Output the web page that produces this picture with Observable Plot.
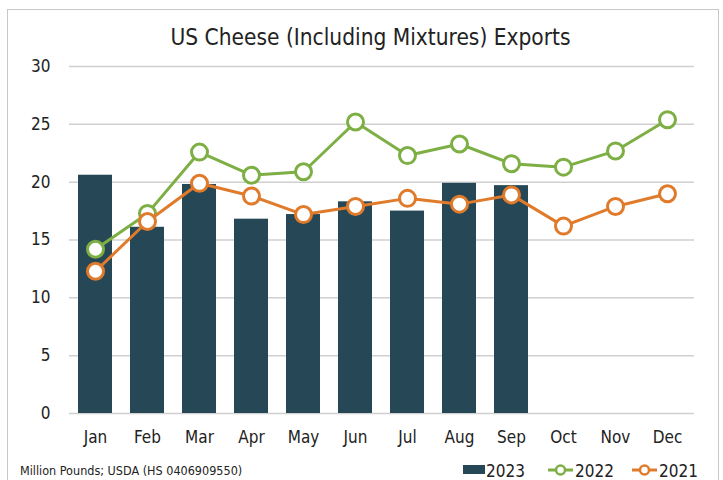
<!DOCTYPE html>
<html><head><meta charset="utf-8">
<script src="https://cdn.jsdelivr.net/npm/d3@7"></script>
<script src="https://cdn.jsdelivr.net/npm/@observablehq/plot@0.6"></script>
<style>
body{margin:0;background:#fff;font-family:"Liberation Sans Narrow","DejaVu Sans Condensed",sans-serif;}
#frame{position:absolute;left:7px;top:9px;width:710px;height:480px;border:1px solid #c8c8c8;}
#title{position:absolute;left:9px;top:24px;width:723px;text-align:center;font-size:22.5px;color:#222;}
#chart{position:absolute;left:0;top:50px;}
#caption{position:absolute;left:20px;top:463px;font-size:12.5px;color:#222;}
#legend{position:absolute;left:463px;top:459px;font-size:17px;color:#222;}
</style></head>
<body>
<div id="frame"></div>
<div id="title">US Cheese (Including Mixtures) Exports</div>
<div id="chart"></div>
<div id="caption">Million Pounds; USDA (HS 0406909550)</div>
<div id="legend"></div>
<script>
const months = ["Jan","Feb","Mar","Apr","May","Jun","Jul","Aug","Sep","Oct","Nov","Dec"];
const v2023 = [20.6,16.1,19.8,16.8,17.2,18.3,17.5,19.9,19.7];
const v2022 = [14.2,17.3,22.6,20.6,20.9,25.2,22.3,23.3,21.6,21.3,22.7,25.4];
const v2021 = [12.3,16.6,19.9,18.8,17.2,17.9,18.6,18.1,18.9,16.2,17.9,19.0];
const yTicks = [0,5,10,15,20,25,30];

const c23 = "#264756", c22 = "#7daf45", c21 = "#e07b2b";
const bars = v2023.map((v,i)=>({m:months[i],v}));
const l22 = v2022.map((v,i)=>({m:months[i],v}));
const l21 = v2021.map((v,i)=>({m:months[i],v}));

const plot = Plot.plot({
  width:723, height:400,
  marginLeft:69, marginRight:29, marginTop:16, marginBottom:37,
  style:{fontFamily:'"Liberation Sans Narrow","DejaVu Sans Condensed",sans-serif', fontSize:"17px", color:"#222"},
  x:{domain:months, paddingInner:0.34, paddingOuter:0.17, label:null, tickSize:0, tickPadding:17},
  y:{domain:[0,30], ticks:yTicks, label:null, tickSize:0, tickPadding:19},
  marks:[
    Plot.ruleY(yTicks,{stroke:"#d0d0d0", strokeWidth:1.5}),
    Plot.barY(bars,{x:"m", y:"v", fill:c23}),
    Plot.line(l22,{x:"m", y:"v", stroke:c22, strokeWidth:3}),
    Plot.dot(l22,{x:"m", y:"v", r:8, stroke:c22, strokeWidth:3, fill:"white"}),
    Plot.line(l21,{x:"m", y:"v", stroke:c21, strokeWidth:3}),
    Plot.dot(l21,{x:"m", y:"v", r:8, stroke:c21, strokeWidth:3, fill:"white"})
  ]
});
document.getElementById("chart").appendChild(plot);

const legendItems = [{k:"2023",c:c23,t:"bar"},{k:"2022",c:c22,t:"line"},{k:"2021",c:c21,t:"line"}];
const lg = d3.select("#legend").append("svg").attr("width",250).attr("height",24).style("overflow","visible");
const offs = [0,85,169];
legendItems.forEach((d,i)=>{
  const g = lg.append("g").attr("transform",`translate(${offs[i]},0)`);
  if(d.t==="bar"){
    g.append("rect").attr("x",0).attr("y",6).attr("width",22).attr("height",9).attr("fill",d.c);
    g.append("text").attr("x",23).attr("y",18).text(d.k).attr("font-size",17).attr("fill","#222");
  } else {
    g.append("line").attr("x1",0).attr("x2",25).attr("y1",11).attr("y2",11).attr("stroke",d.c).attr("stroke-width",3);
    g.append("circle").attr("cx",12.5).attr("cy",11).attr("r",4.5).attr("fill","white").attr("stroke",d.c).attr("stroke-width",2.5);
    g.append("text").attr("x",27).attr("y",18).text(d.k).attr("font-size",17).attr("fill","#222");
  }
});
</script>
</body></html>
